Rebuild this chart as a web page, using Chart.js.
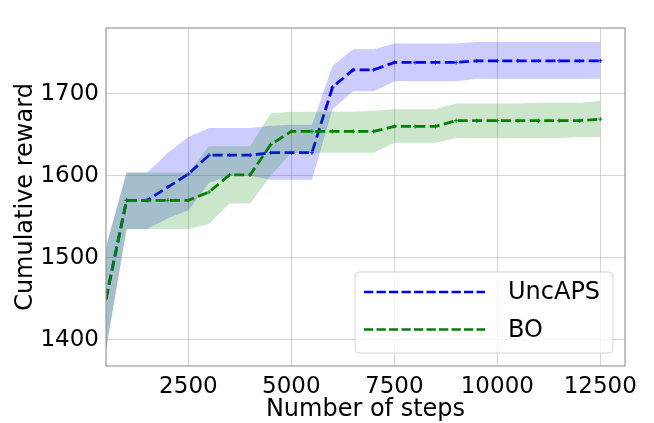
<!DOCTYPE html>
<html>
<head>
<meta charset="utf-8">
<title>Cumulative reward</title>
<script src="https://cdn.jsdelivr.net/npm/chart.js"></script>
<style>
  html, body { margin: 0; padding: 0; background: #fff; }
</style>
</head>
<body>
<canvas id="myChart" width="654" height="423"></canvas>
<script>
// x positions (number of steps)
const steps = [500, 1000, 1500, 2000, 2500, 3000, 3500, 4000, 4500, 5000, 5500, 6000, 6500,
               7000, 7500, 8000, 8500, 9000, 9500, 10000, 10500, 11000, 11500, 12000, 12500];

// UncAPS: mean and band
const uncapsMean  = [1450, 1570, 1570, 1586, 1602, 1625, 1625, 1625, 1628, 1628, 1628, 1708, 1729,
                     1729, 1738, 1738, 1738, 1738, 1740, 1740, 1740, 1740, 1740, 1740, 1740];
const uncapsUpper = [1513, 1604, 1604, 1628, 1647, 1658, 1658, 1658, 1661, 1662, 1662, 1734, 1754,
                     1754, 1761, 1761, 1761, 1761, 1763, 1763, 1763, 1763, 1763, 1763, 1763];
const uncapsLower = [1388, 1535, 1535, 1548, 1558, 1591, 1600, 1600, 1595, 1595, 1595, 1681, 1703,
                     1703, 1715, 1715, 1715, 1715, 1718, 1718, 1718, 1718, 1718, 1718, 1718];

// BO: mean and band
const boMean  = [1450, 1570, 1570, 1570, 1570, 1580, 1601, 1601, 1638, 1654, 1654, 1654, 1654,
                 1654, 1660, 1660, 1660, 1667, 1667, 1667, 1667, 1667, 1667, 1667, 1669];
const boUpper = [1513, 1604, 1604, 1604, 1604, 1636, 1636, 1636, 1676, 1678, 1678, 1678, 1678,
                 1679, 1681, 1681, 1681, 1688, 1688, 1688, 1688, 1689, 1689, 1689, 1691];
const boLower = [1388, 1535, 1535, 1535, 1535, 1541, 1566, 1566, 1600, 1628, 1628, 1628, 1628,
                 1628, 1640, 1640, 1640, 1646, 1646, 1646, 1646, 1646, 1646, 1647, 1647];

const xTicks = [2500, 5000, 7500, 10000, 12500];
const yTicks = [1400, 1500, 1600, 1700];

const pts = (ys) => steps.map((s, i) => ({x: s, y: ys[i]}));

function meanLine(label, ys, color) {
  return {
    label: label, data: pts(ys), borderColor: color, backgroundColor: color,
    borderWidth: 2.8, borderDash: [10, 4.4], fill: false, tension: 0,
    pointStyle: 'cross', pointRadius: 2, pointBorderWidth: 1, pointBorderColor: color
  };
}
function bandEdge(ys, fill, fillColor) {
  return {
    label: '', data: pts(ys), borderWidth: 0, borderColor: 'rgba(0,0,0,0)',
    pointRadius: 0, fill: fill, backgroundColor: fillColor, tension: 0
  };
}

const boLine = meanLine('BO', boMean, '#008000');
const uncapsLine = meanLine('UncAPS', uncapsMean, '#0000ff');

// index 0 is drawn last (on top)
const datasets = [
  boLine,
  bandEdge(boUpper, '+1', 'rgba(0,128,0,0.2)'),
  bandEdge(boLower, false, 'rgba(0,0,0,0)'),
  uncapsLine,
  bandEdge(uncapsUpper, '+1', 'rgba(0,0,255,0.2)'),
  bandEdge(uncapsLower, false, 'rgba(0,0,0,0)')
];
const legendEntries = [uncapsLine, boLine];

// plot frame
const frame = {
  id: 'frame',
  afterDatasetsDraw(chart) {
    const {ctx, chartArea: a} = chart;
    ctx.save();
    ctx.strokeStyle = '#999999';
    ctx.lineWidth = 1.2;
    ctx.strokeRect(a.left, a.top, a.right - a.left, a.bottom - a.top);
    ctx.restore();
  }
};

// legend drawn inside the plot, lower right
const legendBox = {
  id: 'legendBox',
  afterDraw(chart) {
    const {ctx, chartArea: a} = chart;
    const w = 258, h = 81;
    const x0 = a.right - 12 - w, y0 = a.bottom - 13 - h;
    ctx.save();
    ctx.beginPath();
    ctx.roundRect(x0, y0, w, h, 4);
    ctx.fillStyle = 'rgba(255,255,255,0.8)';
    ctx.fill();
    ctx.strokeStyle = 'rgba(204,204,204,0.8)';
    ctx.lineWidth = 1;
    ctx.stroke();
    legendEntries.forEach((d, i) => {
      const y = y0 + 20 + i * 37.5;
      ctx.setLineDash([9.3, 3.2]);
      ctx.strokeStyle = d.borderColor;
      ctx.lineWidth = 2.6;
      ctx.beginPath();
      ctx.moveTo(x0 + 9, y);
      ctx.lineTo(x0 + 130, y);
      ctx.stroke();
      ctx.setLineDash([]);
      ctx.fillStyle = '#000';
      ctx.font = '24px "DejaVu Sans"';
      ctx.textBaseline = 'middle';
      ctx.fillText(d.label, x0 + 153, y + 1);
    });
    ctx.restore();
  }
};

Chart.defaults.font.family = '"DejaVu Sans", sans-serif';
Chart.defaults.color = '#000';

const gridOpts = { color: 'rgba(176,176,176,0.55)', lineWidth: 1, drawTicks: false };

const ctx = document.getElementById('myChart').getContext('2d');
new Chart(ctx, {
  type: 'line',
  data: { datasets: datasets },
  options: {
    responsive: false,
    animation: false,
    layout: { padding: { top: 28, right: 29, left: 0, bottom: 0 } },
    plugins: { legend: { display: false }, tooltip: { enabled: false } },
    scales: {
      x: {
        type: 'linear', min: 500, max: 13100,
        afterBuildTicks: (s) => { s.ticks = xTicks.map(v => ({value: v})); },
        afterFit: (s) => { s.height = 57; },
        ticks: { font: { size: 23 }, padding: 7, maxRotation: 0, autoSkip: false,
                 callback: (v) => String(v) },
        grid: gridOpts,
        border: { display: false },
        title: { display: true, text: 'Number of steps', font: { size: 24, lineHeight: 1.1 },
                 padding: { top: 0, bottom: 0 } }
      },
      y: {
        type: 'linear', min: 1368, max: 1780,
        afterBuildTicks: (s) => { s.ticks = yTicks.map(v => ({value: v})); },
        afterFit: (s) => { s.width = 106; },
        ticks: { font: { size: 23 }, padding: 7, callback: (v) => String(v) },
        grid: gridOpts,
        border: { display: false },
        title: { display: true, text: 'Cumulative reward', font: { size: 24, lineHeight: 1.2 },
                 padding: { top: 11, bottom: 0 } }
      }
    }
  },
  plugins: [frame, legendBox]
});
</script>
</body>
</html>
